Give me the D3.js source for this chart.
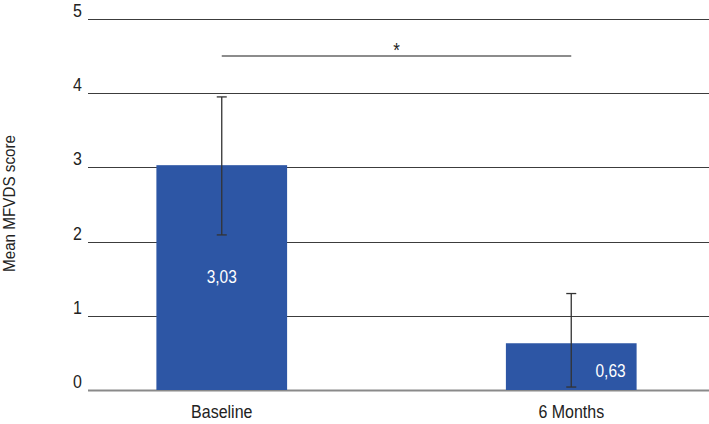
<!DOCTYPE html>
<html>
<head>
<meta charset="utf-8">
<script src="https://cdn.jsdelivr.net/npm/d3@7"></script>
<style>
  body { margin: 0; background: #fff; }
</style>
</head>
<body>
<script>
window.onload = function(){

// data
let categories = ["Baseline", "6 Months"];
let means = [3.03, 0.63];
let errLow = [2.09, 0.04];
let errHigh = [3.95, 1.30];
let valueLabels = ["3,03", "0,63"];
let yTicks = [0, 1, 2, 3, 4, 5];
let sigPair = ["Baseline", "6 Months"];
let sigLevel = 4.5;

let width = 709,
	height = 424;

// the source picture has slightly tall, narrow lettering
let stretch = 1.18;

let svg = d3.select("body")
			.append("svg")
			.attr("width", width)
			.attr("height", height)
			.attr("font-family", "'Liberation Sans', Arial, sans-serif");

let y = d3.scaleLinear()
	.domain([0, 5])
	.range([390, 19]);

let x = d3.scaleBand()
	.domain(categories)
	.range([47, 746])
	.paddingInner(0.626)
	.paddingOuter(0.313);

let gridLeft = 88;

function place(px, py) {
	return "translate(" + px + "," + py + ") scale(1," + stretch + ")";
}

// gridlines
svg.append("g")
	.selectAll("line")
	.data(yTicks)
	.enter().append("line")
	.attr("x1", gridLeft)
	.attr("x2", width)
	.attr("y1", function(d) { return Math.round(y(d)) + 0.5; })
	.attr("y2", function(d) { return Math.round(y(d)) + 0.5; })
	.attr("stroke", function(d) { return d === 0 ? "#8a8a8a" : "#3c3c3c"; })
	.attr("stroke-width", function(d) { return d === 0 ? 2 : 1; });

// tick labels
svg.append("g")
	.selectAll("text")
	.data(yTicks)
	.enter().append("text")
	.attr("transform", function(d) { return place(82, y(d) - 2); })
	.attr("text-anchor", "end")
	.attr("font-size", 16)
	.attr("fill", "#222")
	.text(function(d) { return d; });

// y title
svg.append("text")
	.attr("transform", "translate(15," + (y(2.5) - 1) + ") rotate(-90) scale(1.05,1.12)")
	.attr("text-anchor", "middle")
	.attr("font-size", 14.5)
	.attr("fill", "#222")
	.text("Mean MFVDS score");

// bars
svg.append("g")
	.selectAll("rect")
	.data(categories)
	.enter().append("rect")
	.attr("x", function(d) { return x(d); })
	.attr("width", x.bandwidth())
	.attr("y", function(d, i) { return y(means[i]); })
	.attr("height", function(d, i) { return y(0) - y(means[i]); })
	.attr("fill", "#2d56a5");

// error bars
let eb = svg.append("g")
	.attr("stroke", "#333")
	.attr("stroke-width", 1.3);

categories.forEach(function(c, i) {
	let cx = x(c) + x.bandwidth() / 2;
	eb.append("line")
		.attr("x1", cx).attr("x2", cx)
		.attr("y1", y(errHigh[i])).attr("y2", y(errLow[i]));
	eb.append("line")
		.attr("x1", cx - 5).attr("x2", cx + 5)
		.attr("y1", y(errHigh[i])).attr("y2", y(errHigh[i]));
	eb.append("line")
		.attr("x1", cx - 5).attr("x2", cx + 5)
		.attr("y1", y(errLow[i])).attr("y2", y(errLow[i]));
});

// value labels
svg.append("text")
	.attr("transform", place(x(categories[0]) + x.bandwidth() / 2, y(1.45) + 1))
	.attr("text-anchor", "middle")
	.attr("font-size", 15.5)
	.attr("fill", "#fff")
	.text(valueLabels[0]);

svg.append("text")
	.attr("transform", place(x(categories[1]) + x.bandwidth() - 11, y(0.17)))
	.attr("text-anchor", "end")
	.attr("font-size", 15.5)
	.attr("fill", "#fff")
	.text(valueLabels[1]);

// category labels
svg.append("g")
	.selectAll("text")
	.data(categories)
	.enter().append("text")
	.attr("transform", function(d) { return place(x(d) + x.bandwidth() / 2, 418); })
	.attr("text-anchor", "middle")
	.attr("font-size", 16)
	.attr("fill", "#222")
	.text(function(d) { return d; });

// significance bracket
let sx1 = x(sigPair[0]) + x.bandwidth() / 2,
	sx2 = x(sigPair[1]) + x.bandwidth() / 2;

svg.append("line")
	.attr("x1", sx1).attr("x2", sx2)
	.attr("y1", y(sigLevel)).attr("y2", y(sigLevel))
	.attr("stroke", "#666")
	.attr("stroke-width", 1.5);

svg.append("text")
	.attr("transform", place((sx1 + sx2) / 2, y(sigLevel) + 1))
	.attr("text-anchor", "middle")
	.attr("font-size", 17)
	.attr("fill", "#222")
	.text("*");

}
</script>
</body>
</html>
